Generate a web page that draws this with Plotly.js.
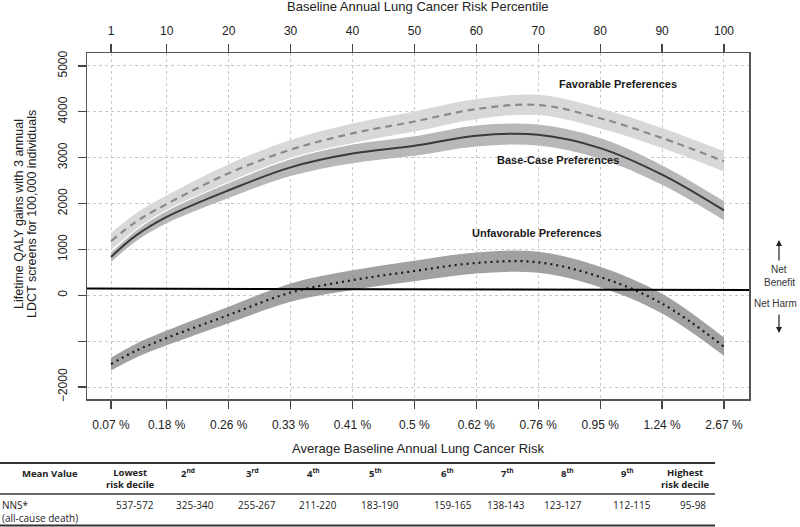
<!DOCTYPE html>
<html>
<head>
<meta charset="utf-8">
<script src="https://cdn.plot.ly/plotly-3.0.1.min.js"></script>
<style>html,body{margin:0;padding:0;background:#fff}#chart{width:800px;height:527px}</style>
</head>
<body>
<div id="chart"></div>
<script>
// ---- data ----
const percentile = [1, 5, 10, 20, 30, 40, 50, 60, 70, 80, 90, 100];
const favorable  = [1180, 1600, 1990, 2660, 3175, 3530, 3790, 4060, 4150, 3860, 3430, 2920];
const favLow     = [1000, 1415, 1800, 2460, 2965, 3315, 3570, 3840, 3930, 3640, 3210, 2700];
const favHigh    = [1360, 1785, 2180, 2860, 3385, 3745, 4010, 4280, 4370, 4080, 3650, 3140];
const baseCase   = [836, 1300, 1710, 2290, 2790, 3090, 3260, 3480, 3500, 3210, 2630, 1850];
const baseLow    = [726, 1175, 1570, 2120, 2600, 2880, 3040, 3245, 3265, 2980, 2410, 1635];
const baseHigh   = [946, 1425, 1850, 2460, 2980, 3300, 3480, 3715, 3735, 3440, 2850, 2065];
const unfavorable= [-1500, -1210, -930, -430, 60, 330, 530, 705, 720, 400, -180, -1120];
const unfLow     = [-1640, -1360, -1090, -610, -140, 115, 305, 475, 490, 175, -395, -1320];
const unfHigh    = [-1360, -1060, -770, -250, 260, 545, 755, 935, 950, 625, 35, -920];

const topTickVals = [1, 10, 20, 30, 40, 50, 60, 70, 80, 90, 100];
const topTickText = ['1', '10', '20', '30', '40', '50', '60', '70', '80', '90', '100'];
const riskTickText = ['0.07 %', '0.18 %', '0.26 %', '0.33 %', '0.41 %', '0.5 %', '0.62 %', '0.76 %', '0.95 %', '1.24 %', '2.67 %'];
const yTickVals = [-2000, -1000, 0, 1000, 2000, 3000, 4000, 5000];
const yTickText = ['\u22122000', ' ', '0', '1000', '2000', '3000', '4000', '5000'];
const netLine = [148, 115]; // left / right value of the reference line

// table
const tableHeader = ['Mean Value', 'Lowest<br>risk decile', '2<sup>nd</sup>', '3<sup>rd</sup>', '4<sup>th</sup>', '5<sup>th</sup>',
                     '6<sup>th</sup>', '7<sup>th</sup>', '8<sup>th</sup>', '9<sup>th</sup>', 'Highest<br>risk decile'];
const nnsLabel = 'NNS*<br>(all-cause death)';
const nnsValues = ['537-572', '325-340', '255-267', '211-220', '183-190', '159-165', '138-143', '123-127', '112-115', '95-98'];

// ---- layout helpers (pixel -> paper) ----
const L = 87, R = 749, T = 53, B = 399, W = 800, H = 527;
const px = v => (v - L) / (R - L);
const py = v => (B - v) / (B - T);
const FONT = 'Liberation Sans, Arial, Helvetica, sans-serif';
const TFONT = 'Open Sans, Noto Sans, sans-serif';

const sp = {shape: 'spline', smoothing: 1};
const traces = [
  {x: percentile, y: favLow, mode: 'lines', line: Object.assign({width: 0}, sp), hoverinfo: 'skip', showlegend: false},
  {x: percentile, y: favHigh, mode: 'lines', fill: 'tonexty', fillcolor: '#d8d8d8', line: Object.assign({width: 0}, sp), hoverinfo: 'skip', showlegend: false},
  {x: percentile, y: baseLow, mode: 'lines', line: Object.assign({width: 0}, sp), hoverinfo: 'skip', showlegend: false},
  {x: percentile, y: baseHigh, mode: 'lines', fill: 'tonexty', fillcolor: '#b8b8b8', line: Object.assign({width: 1.2, color: '#ffffff'}, sp), hoverinfo: 'skip', showlegend: false},
  {x: percentile, y: unfLow, mode: 'lines', line: Object.assign({width: 0}, sp), hoverinfo: 'skip', showlegend: false},
  {x: percentile, y: unfHigh, mode: 'lines', fill: 'tonexty', fillcolor: 'rgba(138,138,138,0.8)', line: Object.assign({width: 0}, sp), hoverinfo: 'skip', showlegend: false},
  {x: percentile, y: favorable, mode: 'lines', line: Object.assign({color: '#8a8a8a', width: 2.2, dash: '7px,5px'}, sp), showlegend: false},
  {x: percentile, y: baseCase, mode: 'lines', line: Object.assign({color: '#3a3a3a', width: 2}, sp), showlegend: false},
  {x: percentile, y: unfavorable, mode: 'lines', line: Object.assign({color: '#1a1a1a', width: 2.2, dash: '2px,4px'}, sp), showlegend: false},
  {x: [topTickVals[0]], y: [0], xaxis: 'x2', yaxis: 'y2', mode: 'markers', marker: {opacity: 0}, hoverinfo: 'skip', showlegend: false}
];

const ann = [];
function addText(text, x, y, opts) {
  ann.push(Object.assign({text: text, x: px(x), y: py(y), xref: 'paper', yref: 'paper', showarrow: false,
    xanchor: 'center', yanchor: 'middle', font: {family: FONT, size: 12, color: '#222'}}, opts || {}));
}
// axis titles
addText('Baseline Annual Lung Cancer Risk Percentile', 418, 7, {font: {family: FONT, size: 13, color: '#222'}});
addText('Average Baseline Annual Lung Cancer Risk', 418, 448, {font: {family: FONT, size: 13, color: '#222'}});
addText('Lifetime QALY gains with 3 annual', 19, 214, {textangle: -90, font: {family: FONT, size: 12.5, color: '#222'}});
addText('LDCT screens for 100,000 individuals', 32, 214, {textangle: -90, font: {family: FONT, size: 12.5, color: '#222'}});
// curve labels
const bold = {family: FONT, size: 11, color: '#1a1a1a', weight: 'bold'};
addText('<b>Favorable Preferences</b>', 618, 84, {font: bold});
addText('<b>Base-Case Preferences</b>', 558, 160, {font: bold});
addText('<b>Unfavorable Preferences</b>', 537, 233, {font: bold});
// net benefit / harm
const small = {family: FONT, size: 10, color: '#333'};
addText('Net', 779, 269, {font: small});
addText('Benefit', 779, 282, {font: small});
addText('Net Harm', 799, 303, {xanchor: 'right', font: small});

// table text
const headX = [50, 130, 188, 252, 313, 375, 447, 507, 567, 627, 685];
const tb = {family: TFONT, size: 9.5, color: '#222', weight: 'bold'};
const tn = {family: TFONT, size: 10, color: '#222'};
tableHeader.forEach((t, i) => {
  const twoLine = t.indexOf('<br>') >= 0;
  addText('<b>' + t + '</b>', headX[i], twoLine ? 479 : 473, {font: tb});
});
addText(nnsLabel, 0, 511, {xanchor: 'left', align: 'left', font: tn});
const valX = [135, 195, 257, 318, 380, 453, 506, 563, 632];
nnsValues.forEach((t, i) => {
  if (i < valX.length) addText(t, valX[i], 505, {font: tn});
  else addText(t, 708, 505, {xanchor: 'right', font: tn});
});

const shapes = [
  {type: 'line', xref: 'paper', yref: 'y', x0: 0, x1: 1, y0: netLine[0], y1: netLine[1], line: {color: '#000', width: 2}},
  {type: 'line', xref: 'paper', yref: 'paper', x0: px(0), x1: px(715), y0: py(463), y1: py(463), line: {color: '#333', width: 1.8}},
  {type: 'line', xref: 'paper', yref: 'paper', x0: px(0), x1: px(715), y0: py(494), y1: py(494), line: {color: '#333', width: 1.4}},
  {type: 'line', xref: 'paper', yref: 'paper', x0: px(0), x1: px(715), y0: py(525.5), y1: py(525.5), line: {color: '#333', width: 1.8}}
];
// arrows (up = net benefit, down = net harm)
ann.push({x: px(779), y: py(240), ax: px(779), ay: py(262), xref: 'paper', yref: 'paper', axref: 'paper', ayref: 'paper',
  showarrow: true, arrowhead: 2, arrowsize: 1, arrowwidth: 1.2, arrowcolor: '#222', text: ''});
ann.push({x: px(779), y: py(333), ax: px(779), ay: py(313), xref: 'paper', yref: 'paper', axref: 'paper', ayref: 'paper',
  showarrow: true, arrowhead: 2, arrowsize: 1, arrowwidth: 1.2, arrowcolor: '#222', text: ''});

const xRange = [-2.88, 104.04];
const yRange = [-2261, 5283];
const layout = {
  width: W, height: H,
  margin: {l: L, r: W - R, t: T, b: H - B, pad: 0},
  paper_bgcolor: '#fff', plot_bgcolor: '#fff',
  font: {family: FONT, size: 12, color: '#222'},
  showlegend: false,
  xaxis: {
    range: xRange, tickmode: 'array', tickvals: topTickVals, ticktext: riskTickText,
    ticks: 'outside', ticklen: 8, tickwidth: 1.2, tickcolor: '#444', ticklabelstandoff: 6,
    showline: true, linecolor: '#555', linewidth: 1.5, mirror: true,
    showgrid: true, gridcolor: '#c8c8c8', griddash: 'dot', gridwidth: 1, zeroline: false,
    tickfont: {family: FONT, size: 12, color: '#222'}
  },
  xaxis2: {
    range: xRange, overlaying: 'x', side: 'top', anchor: 'y', tickmode: 'array', tickvals: topTickVals, ticktext: topTickText,
    ticks: 'outside', ticklen: 8, tickwidth: 1.2, tickcolor: '#444', ticklabelstandoff: 4,
    showline: false, showgrid: false, zeroline: false,
    tickfont: {family: FONT, size: 12, color: '#222'}
  },
  yaxis: {
    range: yRange, tickmode: 'array', tickvals: yTickVals, showticklabels: false,
    ticks: 'outside', ticklen: 8, tickwidth: 1.2, tickcolor: '#444',
    showline: true, linecolor: '#555', linewidth: 1.5, mirror: true,
    showgrid: true, gridcolor: '#c8c8c8', griddash: 'dot', gridwidth: 1, zeroline: false
  },
  yaxis2: {
    range: yRange, overlaying: 'y', side: 'left', anchor: 'x', tickmode: 'array', tickvals: yTickVals, ticktext: yTickText,
    tickangle: -90, ticks: 'outside', ticklen: 14, tickwidth: 1, tickcolor: 'rgba(0,0,0,0)',
    showline: false, showgrid: false, zeroline: false,
    tickfont: {family: FONT, size: 12, color: '#222'}
  },
  annotations: ann,
  shapes: shapes
};

Plotly.newPlot('chart', traces, layout, {displayModeBar: false, staticPlot: true});
</script>
</body>
</html>
